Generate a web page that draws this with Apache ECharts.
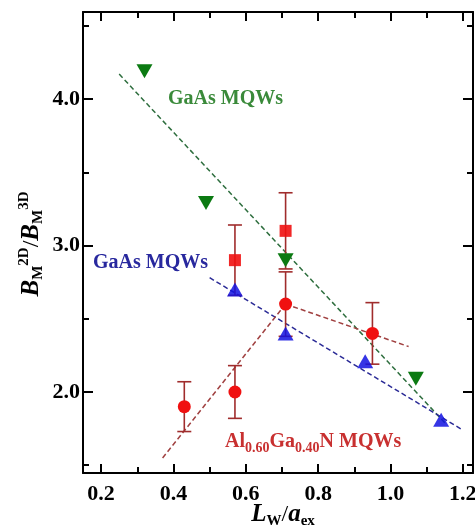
<!DOCTYPE html>
<html>
<head>
<meta charset="utf-8">
<script src="https://cdn.jsdelivr.net/npm/echarts@6/dist/echarts.min.js"></script>
<style>
    html, body { margin: 0; padding: 0; background: #fff; }
    #chart { width: 475px; height: 530px; }
</style>
</head>
<body>
<div id="chart"></div>
<script>
// GaAs MQWs (green, down triangles)
const greenX = [0.32, 0.49, 0.71, 1.07];
const greenY = [4.19, 3.29, 2.90, 2.09];
// GaAs MQWs (blue, up triangles)
const blueX = [0.57, 0.71, 0.93, 1.14];
const blueY = [2.70, 2.40, 2.21, 1.81];
// Al0.60Ga0.40N MQWs, squares and circles with error bars
const squareX = [0.57, 0.71];
const squareY = [2.90, 3.10];
const squareErr = [0.24, 0.26];
const circleX = [0.43, 0.57, 0.71, 0.95];
const circleY = [1.90, 2.00, 2.60, 2.40];
const circleErr = [0.17, 0.18, 0.22, 0.21];
// dashed guide lines, start and end points
const greenFit = [[0.25, 4.17], [1.15, 1.79]];
const blueFit = [[0.50, 2.78], [1.20, 1.74]];
const redFitA = [[0.37, 1.55], [0.71, 2.60]];
const redFitB = [[0.71, 2.60], [1.05, 2.31]];
// ticks
const xMajor = [0.2, 0.4, 0.6, 0.8, 1.0, 1.2];
const xMinor = [0.3, 0.5, 0.7, 0.9, 1.1];
const yMajor = [2.0, 3.0, 4.0];
const yMinor = [1.5, 2.5, 3.5, 4.5];

const X_MIN = 0.15, X_MAX = 1.228;
const Y_MIN = 1.447, Y_MAX = 4.594;
const FONT = "'Liberation Serif', 'DejaVu Serif', serif";
const ERR_COLOR = '#a02c2c';

const zip = (xs, ys) => xs.map((x, i) => [x, ys[i]]);
const zip3 = (xs, ys, es) => xs.map((x, i) => [x, ys[i], es[i]]);

const tickLabel = (values) => ({
    customValues: values,
    formatter: (v) => v.toFixed(1),
    fontFamily: FONT,
    fontSize: 22,
    fontWeight: 'bold',
    color: '#000'
});

function makeAxis(dim, position, ticks, len, withLine, label) {
    const isX = dim === 'x';
    return {
        type: 'value',
        position: position,
        min: isX ? X_MIN : Y_MIN,
        max: isX ? X_MAX : Y_MAX,
        axisLine: { show: withLine, onZero: false, lineStyle: { color: '#000', width: 2 } },
        axisTick: { show: true, inside: true, length: len, customValues: ticks, lineStyle: { color: '#000', width: 2 } },
        axisLabel: label ? Object.assign({ margin: isX ? 10 : 3 }, tickLabel(ticks)) : { show: false },
        splitLine: { show: false }
    };
}

function renderErrorBar(params, api) {
    const x = api.value(0), y = api.value(1), e = api.value(2);
    const top = api.coord([x, y + e]);
    const bot = api.coord([x, y - e]);
    const half = 7;
    const style = { stroke: ERR_COLOR, lineWidth: 1.6 };
    return {
        type: 'group',
        children: [
            { type: 'line', shape: { x1: top[0], y1: top[1], x2: bot[0], y2: bot[1] }, style: style },
            { type: 'line', shape: { x1: top[0] - half, y1: top[1], x2: top[0] + half, y2: top[1] }, style: style },
            { type: 'line', shape: { x1: bot[0] - half, y1: bot[1], x2: bot[0] + half, y2: bot[1] }, style: style }
        ]
    };
}

const dashed = (data, color) => ({
    type: 'line',
    data: data,
    symbol: 'none',
    z: 1,
    lineStyle: { color: color, width: 1.5, type: [5, 3] }
});

const label = (text, x, y, color, rich) => ({
    type: 'text',
    x: x,
    y: y,
    style: {
        text: text,
        fill: color,
        fontFamily: FONT,
        fontSize: 20,
        fontWeight: 'bold',
        align: 'left',
        verticalAlign: 'middle',
        rich: rich
    }
});

const sub = (color, size) => ({ fontFamily: FONT, fontSize: size, fontWeight: 'bold', fill: color, color: color, padding: [12, 0, 0, 0] });

let option = {
    animation: false,
    backgroundColor: '#fff',
    grid: { left: 83, right: 2, top: 12, bottom: 57, outerBoundsMode: 'none' },
    xAxis: [
        makeAxis('x', 'bottom', xMajor, 9, true, true),
        makeAxis('x', 'bottom', xMinor, 6, false, false),
        makeAxis('x', 'top', xMajor, 9, true, false),
        makeAxis('x', 'top', xMinor, 6, false, false)
    ],
    yAxis: [
        makeAxis('y', 'left', yMajor, 10, true, true),
        makeAxis('y', 'left', yMinor, 6, false, false),
        makeAxis('y', 'right', yMajor, 10, true, false),
        makeAxis('y', 'right', yMinor, 6, false, false)
    ],
    series: [
        dashed(greenFit, '#2e6e3e'),
        dashed(blueFit, '#2a2a96'),
        dashed(redFitA, '#a04040'),
        dashed(redFitB, '#a04040'),
        {
            type: 'custom',
            renderItem: renderErrorBar,
            data: zip3(squareX, squareY, squareErr),
            z: 2
        },
        {
            type: 'custom',
            renderItem: renderErrorBar,
            data: zip3(circleX, circleY, circleErr),
            z: 2
        },
        {
            type: 'scatter',
            data: zip(greenX, greenY),
            symbol: 'triangle',
            symbolRotate: 180,
            symbolSize: [16, 14],
            itemStyle: { color: '#0b7a12', opacity: 1 },
            z: 3
        },
        {
            type: 'scatter',
            data: zip(squareX, squareY),
            symbol: 'rect',
            symbolSize: 12,
            itemStyle: { color: '#f01010', opacity: 0.9 },
            z: 3
        },
        {
            type: 'scatter',
            data: zip(circleX, circleY),
            symbol: 'circle',
            symbolSize: 13,
            itemStyle: { color: '#f01010', opacity: 1 },
            z: 3
        },
        {
            type: 'scatter',
            data: zip(blueX, blueY),
            symbol: 'triangle',
            symbolSize: [16, 14],
            itemStyle: { color: '#1212e0', opacity: 0.85 },
            z: 3
        }
    ],
    graphic: [
        label('GaAs MQWs', 168, 99, '#3a8a3a'),
        label('GaAs MQWs', 93, 263, '#28289e'),
        label('Al{s|0.60}Ga{s|0.40}N MQWs', 225, 442, '#c83030', { s: sub('#c83030', 14) }),
        {
            type: 'text',
            x: 283,
            y: 515,
            style: {
                text: '{i|L}{s|W}{r|/}{i|a}{s|ex}',
                align: 'center',
                verticalAlign: 'middle',
                fill: '#000',
                rich: {
                    i: { fontFamily: FONT, fontSize: 25, fontStyle: 'italic', fontWeight: 'bold', fill: '#000' },
                    r: { fontFamily: FONT, fontSize: 24, fill: '#000' },
                    s: { fontFamily: FONT, fontSize: 15, fontWeight: 'bold', fill: '#000', padding: [13, 0, 0, 0] }
                }
            }
        },
        {
            type: 'text',
            x: 32,
            y: 244,
            rotation: Math.PI / 2,
            style: {
                text: '{i|B}{s|M}{p|2D}{r|/}{i|B}{s|M}{p|3D}',
                align: 'center',
                verticalAlign: 'middle',
                fill: '#000',
                rich: {
                    i: { fontFamily: FONT, fontSize: 25, fontStyle: 'italic', fontWeight: 'bold', fill: '#000' },
                    r: { fontFamily: FONT, fontSize: 24, fill: '#000' },
                    s: { fontFamily: FONT, fontSize: 15, fontWeight: 'bold', fill: '#000', padding: [13, 0, 0, 0] },
                    p: { fontFamily: FONT, fontSize: 15, fontWeight: 'bold', fill: '#000', padding: [0, 0, 16, 0] }
                }
            }
        }
    ]
};

const myChart = echarts.init(document.getElementById('chart'));
option && myChart.setOption(option);
</script>
</body>
</html>
